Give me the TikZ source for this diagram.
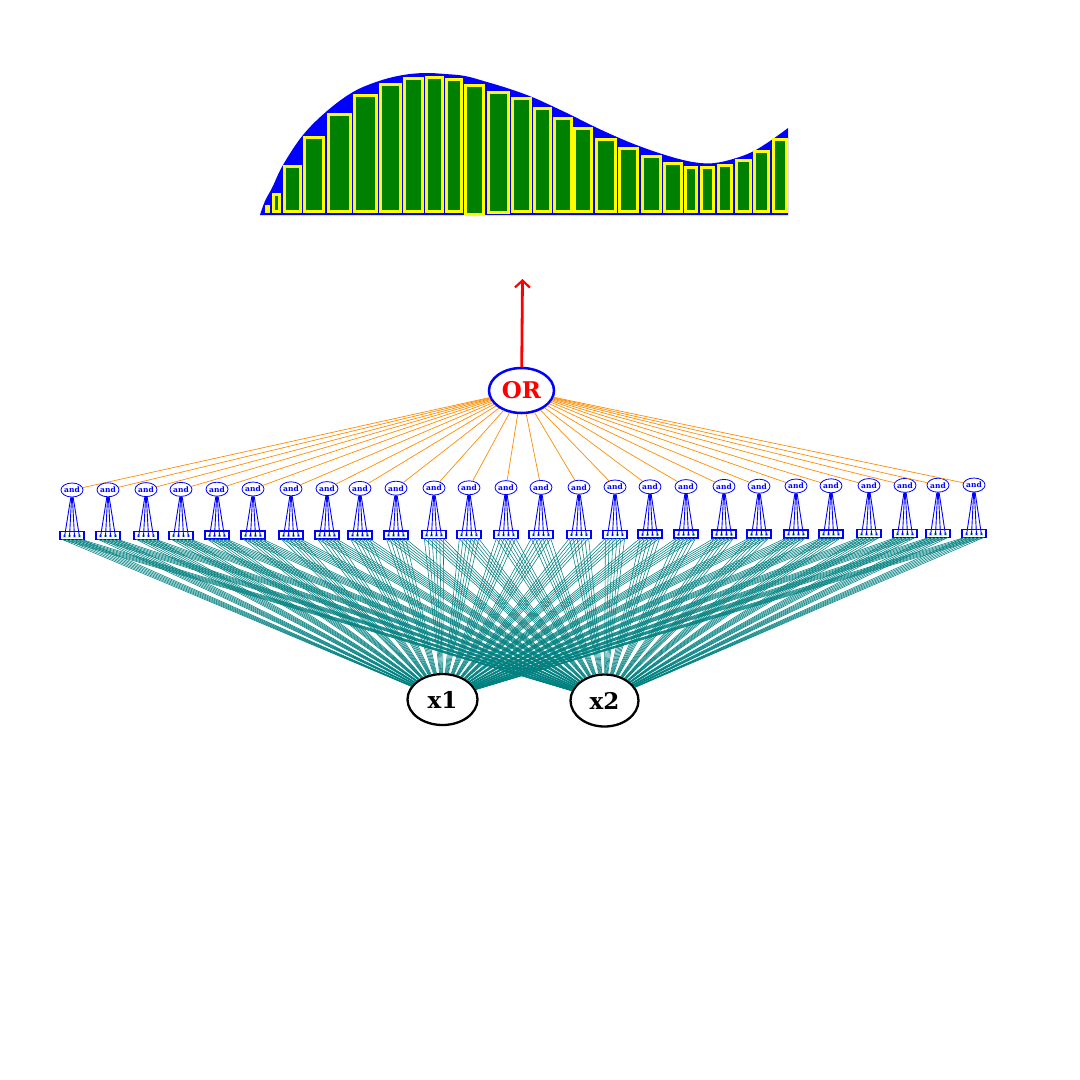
\documentclass[tikz,border=0pt]{standalone}
\usepackage{fontspec}
\setmainfont{DejaVu Serif}
\usetikzlibrary{arrows.meta,shapes.geometric}
\definecolor{orng}{RGB}{255,140,0}
\definecolor{tealc}{RGB}{0,128,128}
\definecolor{grn}{RGB}{0,128,0}
\definecolor{ylw}{RGB}{255,255,0}
\definecolor{blu}{RGB}{0,0,255}
\begin{document}
\begin{tikzpicture}[x=1pt,y=-1pt,
  ornode/.style={ellipse,draw=blu,fill=white,line width=2.5pt,minimum width=65pt,minimum height=45pt,inner sep=0pt,text=red,font=\fontsize{23}{23}\selectfont\bfseries},
  varnode/.style={ellipse,draw=black,fill=white,line width=2.3pt,minimum width=70pt,minimum height=51pt,inner sep=0pt,font=\fontsize{23}{23}\selectfont\bfseries},
  andnode/.style={ellipse,draw=blu,fill=white,line width=0.8pt,minimum width=20pt,minimum height=14pt,inner sep=0pt,text=blu,font=\fontsize{7.5}{7.5}\selectfont\bfseries},
  boxnode/.style={rectangle,draw=blu,fill=white,line width=1.5pt,minimum width=24pt,minimum height=8pt,inner sep=0pt},
  orline/.style={draw=orng,line width=0.7pt},
  andline/.style={draw=blu,line width=0.9pt},
  leafline/.style={draw=tealc,line width=0.55pt},
  squig/.style={draw=tealc,line width=0.35pt},
  redarrow/.style={draw=red,line width=2.8pt,-{Straight Barb[length=7pt,width=15pt,line width=2.2pt]}},
  bar/.style={fill=grn,draw=ylw,line width=3pt}
]
\useasboundingbox (0,0) rectangle (1080,1080);

% histogram
\fill[blu] (260,215) -- plot[smooth,tension=0.6] coordinates {(260,215) (265,201) (272,188) (283,165) (303,135) (327,111) (353,92) (379,81) (403,75) (425,73) (445,74) (465,76) (487,82) (510,89) (532,97) (552,106) (573,116) (593,126) (617,137) (639,146) (662,154) (683,160) (700,163) (715,163) (733,159) (752,152) (770,141) (788,128)} -- (788,215) -- cycle;
\foreach \xa/\xb/\yt/\yb in {265/270/205/213, 272/281/193/213, 283/302/165/213, 303/325/136/213, 327/352/113/213, 353/378/94/213, 379/402/83/213, 403/424/77/213, 425/444/76/213, 445/463/78/213, 464/485/84/216, 487/510/91/214, 511/532/97/213, 533/552/107/213, 553/573/117/213, 573/593/127/213, 595/617/138/213, 618/639/147/213, 641/662/155/213, 663/683/162/213, 684/698/166/213, 700/715/166/213, 717/733/164/213, 735/752/159/213, 753/770/150/213, 772/788/138/213}
  \path[bar] (\xa+1.5,\yt+1.5) rectangle (\xb-1.5,\yb-1.5);

% main nodes
\node[ornode] (or) at (521.5,390.5) {OR};
\node[varnode] (x1) at (442.5,699.5) {x1};
\node[varnode,minimum width=68pt,minimum height=52pt] (x2) at (604.5,700.5) {x2};
\coordinate (arrtip) at (522.5,279);
\draw[redarrow] (or) -- (arrtip);

% product nodes and leaf boxes
\foreach \x [count=\i] in {72,108,146,181,217,253,291,327,360,396,434,469,506,541,579,615,650,686,724,759,796,831,869,905,938,974} {
  \pgfmathsetmacro\ay{490-5*(\i-1)/25}
  \pgfmathsetmacro\by{535.5-2*(\i-1)/25}
  \node[andnode] (a\i) at (\x,\ay) {and};
  \node[boxnode] (b\i) at (\x,\by) {};
  \draw[orline] (or) -- (a\i);
  \foreach \m in {1,...,6} {
    \coordinate (t\i-\m) at (\x-13.5+3.86*\m,\by+4);
    \draw[leafline] (t\i-\m) -- (x1);
    \draw[leafline] (t\i-\m) -- (x2);
  }
  \foreach \k in {1,...,4} {
    \coordinate (s\i-\k) at (\x-12.5+5*\k,\by+1.5);
    \draw[squig] (\x-14+5*\k,\by+2) sin (\x-12.5+5*\k,\by-1) cos (\x-11+5*\k,\by+2);
    \draw[andline] (a\i) -- (s\i-\k);
  }
}
\end{tikzpicture}
\end{document}
